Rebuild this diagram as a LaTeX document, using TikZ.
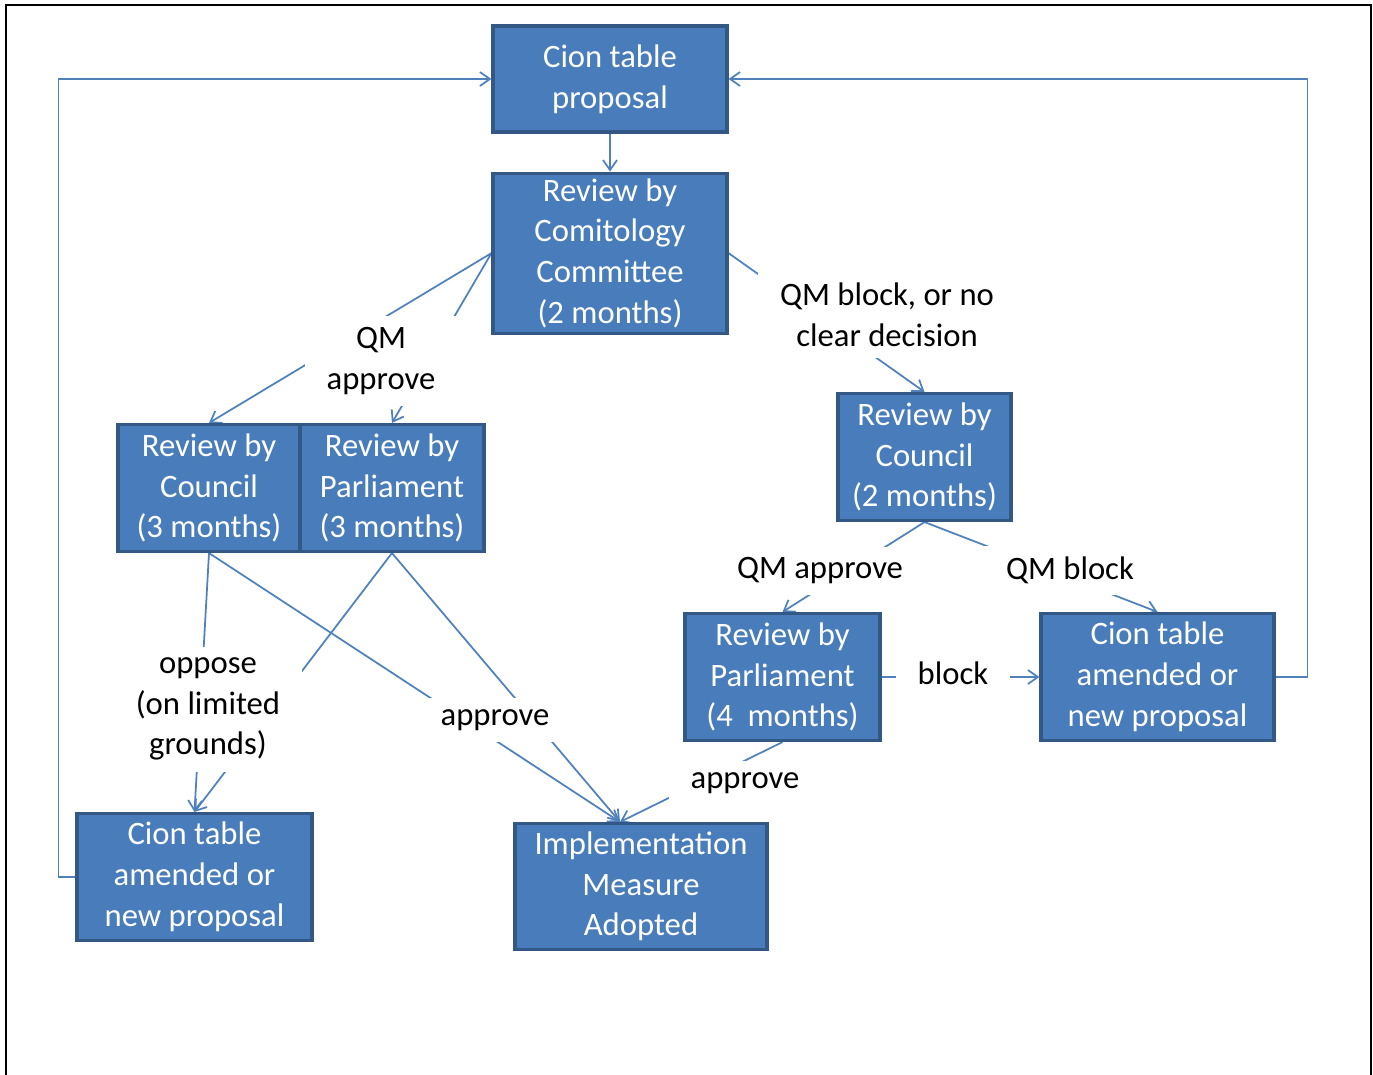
\documentclass[tikz,border=0pt]{standalone}
\usepackage{fontspec}
\setmainfont{Carlito}
\usetikzlibrary{arrows.meta, positioning, backgrounds}
\definecolor{boxfill}{RGB}{72,124,186}
\definecolor{boxborder}{RGB}{52,88,134}
\definecolor{linkcolor}{RGB}{79,129,189}
\newcommand{\boxfont}{\fontsize{18.6}{23.2}\selectfont}
\tikzset{
    block/.style={rectangle, draw=boxborder, fill=boxfill, line width=1.8pt, text=white,
        inner ysep=0pt, minimum height=2.54cm, align=center, font=\boxfont},
    cond/.style={rectangle, fill=white, inner xsep=0.44cm, inner ysep=0.22cm,
        align=center, font=\boxfont},
    arrow/.style={-{Straight Barb[length=2mm, width=2.8mm]}, line width=1pt, draw=linkcolor}
}

\begin{document}
\begin{tikzpicture}[x=0.02cm, y=-0.02cm]
    \useasboundingbox (0,0) rectangle (1373,1075);
    \draw[line width=0.05cm] (6,1075) -- (6,5) -- (1371,5) -- (1371,1075);

    \node[block, minimum width=4.68cm, minimum height=2.12cm] (proposal) at (610,79) {Cion table\\proposal};
    \node[block, minimum width=4.68cm, minimum height=3.2cm, below=0.76cm of proposal] (comitology) {Review by\\Comitology\\Committee\\(2 months)};
    \node[block, minimum width=3.64cm] (council3) at (209,488) {Review by\\Council\\(3 months)};
    \node[block, minimum width=3.68cm, right=-1.8pt of council3] (parl3) {Review by\\Parliament\\(3 months)};
    \node[block, minimum width=3.46cm] (council2) at (924.5,457) {Review by\\Council\\(2 months)};
    \node[block, minimum width=3.9cm] (parl4) at (782.5,677) {Review by\\Parliament\\(4~~months)};
    \node[block, minimum width=4.66cm] (amendR) at (1157.5,677) {Cion table\\amended or\\new proposal};
    \node[block, minimum width=4.7cm] (amendL) at (194.5,877) {Cion table\\amended or\\new proposal};
    \node[block, minimum width=5.04cm, minimum height=2.52cm] (adopted) at (641,886.5) {Implementation\\Measure\\Adopted};

    \node[cond] (qmapprove) at (381,361) {QM\\approve};
    \node[cond] (qmblock) at (887,315) {QM block, or no\\clear decision};
    \node[cond] (councilapprove) at (820,571) {QM approve};
    \node[cond] (councilblock) at (1070,570) {QM block};
    \node[cond] (parlblock) at (953,673) {block};
    \node[cond] (oppose) at (208,709) {oppose\\(on limited\\grounds)};
    \node[cond] (approveL) at (495,720) {approve};
    \node[cond] (approveR) at (745,783) {approve};

    \begin{scope}[on background layer]
        \draw[arrow] (proposal) -- (comitology);
        \draw[arrow] (comitology.west) -- (council3.north);
        \draw[arrow] (comitology.west) -- (parl3.north);
        \draw[arrow] (comitology.east) -- (council2.north);
        \draw[arrow] (council2.south) -- (parl4.north);
        \draw[arrow] (council2.south) -- (amendR.north);
        \draw[arrow] (parl4) -- (amendR);
        \draw[arrow] (parl4.south) -- ([xshift=-0.42cm]adopted.north);
        \draw[arrow] (council3.south) -- (amendL.north);
        \draw[arrow] (parl3.south) -- (amendL.north);
        \draw[arrow] (council3.south) -- ([xshift=-0.42cm]adopted.north);
        \draw[arrow] (parl3.south) -- ([xshift=-0.42cm]adopted.north);
        \draw[arrow] (amendL.west) -- ++(-17,0) |- (proposal.west);
        \draw[arrow] (amendR.east) -- ++(32,0) |- (proposal.east);
    \end{scope}
\end{tikzpicture}
\end{document}
